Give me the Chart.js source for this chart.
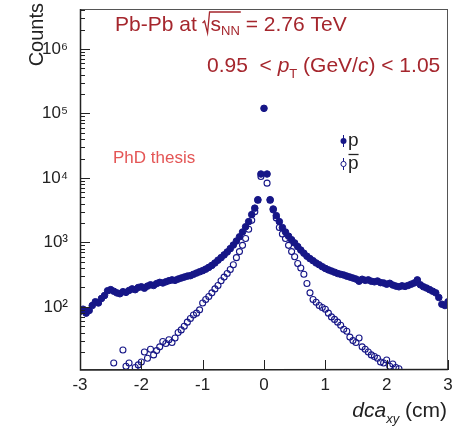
<!DOCTYPE html>
<html><head><meta charset="utf-8">
<script src="https://cdn.jsdelivr.net/npm/chart.js@4/dist/chart.umd.min.js"></script>
<style>html,body{margin:0;padding:0;background:#fff}#wrap{width:465px;height:427px}</style>
</head><body><div id="wrap"><canvas id="c" width="465" height="427"></canvas></div>
<script>
const dcaXY = [
 -3.00,-2.95,-2.90,-2.85,-2.80,-2.75,-2.70,-2.65,-2.60,-2.55,
 -2.50,-2.45,-2.40,-2.35,-2.30,-2.25,-2.20,-2.15,-2.10,-2.05,
 -2.00,-1.95,-1.90,-1.85,-1.80,-1.75,-1.70,-1.65,-1.60,-1.55,
 -1.50,-1.45,-1.40,-1.35,-1.30,-1.25,-1.20,-1.15,-1.10,-1.05,
 -1.00,-0.95,-0.90,-0.85,-0.80,-0.75,-0.70,-0.65,-0.60,-0.55,
 -0.50,-0.45,-0.40,-0.35,-0.30,-0.25,-0.20,-0.15,-0.10,-0.05,
 0.00,
 0.05,0.10,0.15,0.20,0.25,0.30,0.35,0.40,0.45,0.50,
 0.55,0.60,0.65,0.70,0.75,0.80,0.85,0.90,0.95,1.00,
 1.05,1.10,1.15,1.20,1.25,1.30,1.35,1.40,1.45,1.50,
 1.55,1.60,1.65,1.70,1.75,1.80,1.85,1.90,1.95,2.00,
 2.05,2.10,2.15,2.20,2.25,2.30,2.35,2.40,2.45,2.50,
 2.55,2.60,2.65,2.70,2.75,2.80,2.85,2.90,2.95,3.00
];
const protonCounts = [
 85,92,80,88,105,120,115,135,150,178,
 185,175,165,160,172,168,180,190,185,200,
 205,195,210,220,215,230,240,235,245,255,
 262,258,270,280,290,300,305,320,335,350,
 365,385,410,440,480,530,580,640,710,800,
 910,1050,1220,1450,1750,2100,2700,3400,4600,11500,
 120000,
 11500,4600,3300,2600,2100,1700,1450,1250,1100,980,
 860,760,680,610,560,520,480,450,420,395,
 375,360,345,330,320,312,300,290,280,270,
 250,268,258,262,250,245,252,238,235,225,
 232,218,210,205,212,208,215,225,235,262,
 220,205,196,185,175,165,140,110,105,120
];
const antiprotonCounts = [
 null,null,null,null,null,null,null,null,null,null,
 null,13.5,null,null,21.5,12,13.5,null,11.5,12.6,
 14,20,16,22,18,21,24,29,27,31,
 28,33,40,44,50,58,66,75,80,90,
 115,130,145,165,190,215,255,290,330,380,
 450,580,720,900,1150,1600,2200,3000,4500,10500,
 null,
 8300,4500,3200,2400,1700,1350,1150,900,720,600,
 470,400,320,230,165,130,118,105,98,92,
 80,70,64,58,52,45,42,34,30,28,
 33,24,22,20,18,17,16,14,13.5,15,
 12,13,11.5,11,null,null,null,null,null,null,
 null,null,null,null,null,null,null,null,null,null
];
const xTickValues = [-3,-2,-1,0,1,2,3];
const xTickLabels = ['-3','-2','-1','0','1','2','3'];
const yDecades = [100,1000,10000,100000,1000000];
const yTickLabels = ['10\u00B2','10\u00B3','10\u2074','10\u2075','10\u2076'];
const seriesNames = ['p','p\u0304'];

const navy = 'rgb(22,22,135)';
const textRed = 'rgb(165,38,45)';
const FAM = '"Liberation Sans", Arial, sans-serif';

function pts(ys){ const out=[]; for(let i=0;i<dcaXY.length;i++){ if(ys[i]!==null) out.push({x:dcaXY[i], y:ys[i]}); } return out; }

const decor = {
  id:'decor',
  afterDatasetsDraw(chart){
    const ctx = chart.ctx, a = chart.chartArea;
    const xs = chart.scales.x, ys = chart.scales.y;
    ctx.save();
    ctx.strokeStyle = '#555'; ctx.lineWidth = 1;
    ctx.strokeRect(a.left+0.5, a.top+0.5, a.right-a.left-1, a.bottom-a.top-1);
    ctx.strokeStyle = '#222'; ctx.lineWidth = 1.5;
    ctx.beginPath();
    ctx.moveTo(a.left+0.5, a.top); ctx.lineTo(a.left+0.5, a.bottom);
    ctx.lineTo(a.right, a.bottom-0.5);
    ctx.stroke();
    // y ticks inside
    ctx.lineWidth = 1;
    ctx.beginPath();
    for(let e=1;e<=6;e++){
      for(let m=1;m<=9;m++){
        const v = m*Math.pow(10,e);
        if(v<ys.min || v>ys.max) continue;
        const py = Math.round(ys.getPixelForValue(v))+0.5;
        const len = (m===1)?10:5;
        ctx.moveTo(a.left, py); ctx.lineTo(a.left+len, py);
      }
    }
    // x ticks inside
    for(const v of xTickValues){
      const px = Math.round(xs.getPixelForValue(v))+0.5;
      ctx.moveTo(px, a.bottom); ctx.lineTo(px, a.bottom-10);
    }
    ctx.stroke();
    ctx.restore();
  },
  afterDraw(chart){
    const ctx = chart.ctx;
    ctx.save();
    ctx.textBaseline = 'alphabetic';
    ctx.textAlign = 'left';
    const big = '21px ' + FAM, sub = '13px ' + FAM, ital = 'italic 21px ' + FAM;
    // Title line 1
    ctx.fillStyle = textRed;
    let x = 115, y = 31;
    ctx.font = big;
    let t = 'Pb-Pb at ';
    ctx.fillText(t, x, y); x += ctx.measureText(t).width;
    ctx.strokeStyle = textRed; ctx.lineWidth = 1.3;
    ctx.beginPath();
    ctx.moveTo(x, y-8); ctx.lineTo(x+2, y-10); ctx.lineTo(x+5, y+2); ctx.lineTo(x+7, y-19);
    x += 8;
    ctx.fillText('s', x, y); x += ctx.measureText('s').width;
    ctx.font = sub;
    ctx.fillText('NN', x, y+4); x += ctx.measureText('NN').width;
    ctx.lineTo(x+1, y-19);
    ctx.stroke();
    ctx.font = big;
    ctx.fillText(' = 2.76 TeV', x, y);
    // Title line 2
    x = 207; y = 72;
    t = '0.95  < ';
    ctx.fillText(t, x, y); x += ctx.measureText(t).width;
    ctx.font = ital;
    ctx.fillText('p', x, y); x += ctx.measureText('p').width;
    ctx.font = sub;
    ctx.fillText('T', x, y+6); x += ctx.measureText('T').width;
    ctx.font = big;
    t = ' (GeV/';
    ctx.fillText(t, x, y); x += ctx.measureText(t).width;
    ctx.font = ital;
    ctx.fillText('c', x, y); x += ctx.measureText('c').width;
    ctx.font = big;
    ctx.fillText(') < 1.05', x, y);
    // PhD thesis
    ctx.fillStyle = 'rgb(228,85,85)';
    ctx.font = '17px ' + FAM;
    ctx.fillText('PhD thesis', 113, 163);
    // Legend
    ctx.fillStyle = navy; ctx.strokeStyle = navy; ctx.lineWidth = 1;
    ctx.beginPath(); ctx.moveTo(343.5,135); ctx.lineTo(343.5,147); ctx.stroke();
    ctx.beginPath(); ctx.arc(343.5,141,3,0,Math.PI*2); ctx.fill();
    ctx.beginPath(); ctx.moveTo(343.5,158); ctx.lineTo(343.5,170); ctx.stroke();
    ctx.fillStyle = '#fff';
    ctx.beginPath(); ctx.arc(343.5,164,2.6,0,Math.PI*2); ctx.fill(); ctx.stroke();
    ctx.fillStyle = '#222';
    ctx.font = '19px ' + FAM;
    ctx.fillText(seriesNames[0].charAt(0), 348, 146);
    ctx.fillText('p', 348, 169);
    const pw = ctx.measureText('p').width;
    ctx.strokeStyle = '#222'; ctx.lineWidth = 1.3;
    ctx.beginPath(); ctx.moveTo(348.5, 154.5); ctx.lineTo(348+pw, 154.5); ctx.stroke();
    // Axis titles
    ctx.fillStyle = '#222';
    ctx.font = '20px ' + FAM;
    ctx.save();
    ctx.translate(43, 3); ctx.rotate(-Math.PI/2);
    ctx.textAlign = 'right'; ctx.textBaseline = 'alphabetic';
    ctx.fillText('Counts', 0, 0);
    ctx.restore();
    const f1 = 'italic 21px ' + FAM;
    const f2 = 'italic 13px ' + FAM;
    const f3 = '21px ' + FAM;
    ctx.font = f1; const w1 = ctx.measureText('dca').width;
    ctx.font = f2; const w2 = ctx.measureText('xy').width;
    ctx.font = f3; const w3 = ctx.measureText(' (cm)').width;
    x = 447 - (w1+w2+w3); y = 417;
    ctx.font = f1; ctx.fillText('dca', x, y); x += w1;
    ctx.font = f2; ctx.fillText('xy', x, y+6); x += w2;
    ctx.font = f3; ctx.fillText(' (cm)', x, y);
    ctx.restore();
  }
};

new Chart(document.getElementById('c'), {
  type:'scatter',
  data:{ datasets:[
    { label:seriesNames[0], data:pts(protonCounts), pointStyle:'circle', pointRadius:3.3, pointBorderWidth:1,
      backgroundColor:navy, borderColor:navy, showLine:false },
    { label:seriesNames[1], data:pts(antiprotonCounts), pointStyle:'circle', pointRadius:3, pointBorderWidth:1.1,
      backgroundColor:'rgba(255,255,255,0)', borderColor:navy, showLine:false }
  ]},
  options:{
    responsive:false, animation:false, events:[],
    layout:{ padding:{ left:0, right:17, top:9, bottom:0 } },
    plugins:{ legend:{display:false}, tooltip:{enabled:false} },
    scales:{
      x:{ type:'linear', min:-3, max:3,
        grid:{ display:false, drawTicks:false }, border:{display:false},
        afterFit(s){ s.height = 57; s.paddingLeft = 0; s.paddingRight = 0; },
        afterBuildTicks(s){ s.ticks = xTickValues.map(v=>({value:v})); },
        ticks:{ padding:5, color:'#222', font:{ size:17, family:FAM },
          autoSkip:false, maxRotation:0,
          callback(v){ const i = xTickValues.indexOf(v); return i>=0 ? xTickLabels[i] : ''; } } },
      y:{ type:'logarithmic', min:10.5, max:4.17e6,
        grid:{ display:false, drawTicks:false }, border:{display:false},
        afterFit(s){ s.width = 80; s.paddingTop = 0; s.paddingBottom = 0; },
        afterBuildTicks(s){ s.ticks = yDecades.map(v=>({value:v})); },
        ticks:{ padding:12, color:'#222', font:{ size:17, family:FAM },
          autoSkip:false,
          callback(v){ const i = yDecades.indexOf(v); return i>=0 ? yTickLabels[i] : ''; } } }
    }
  },
  plugins:[decor]
});
</script>
</body></html>
